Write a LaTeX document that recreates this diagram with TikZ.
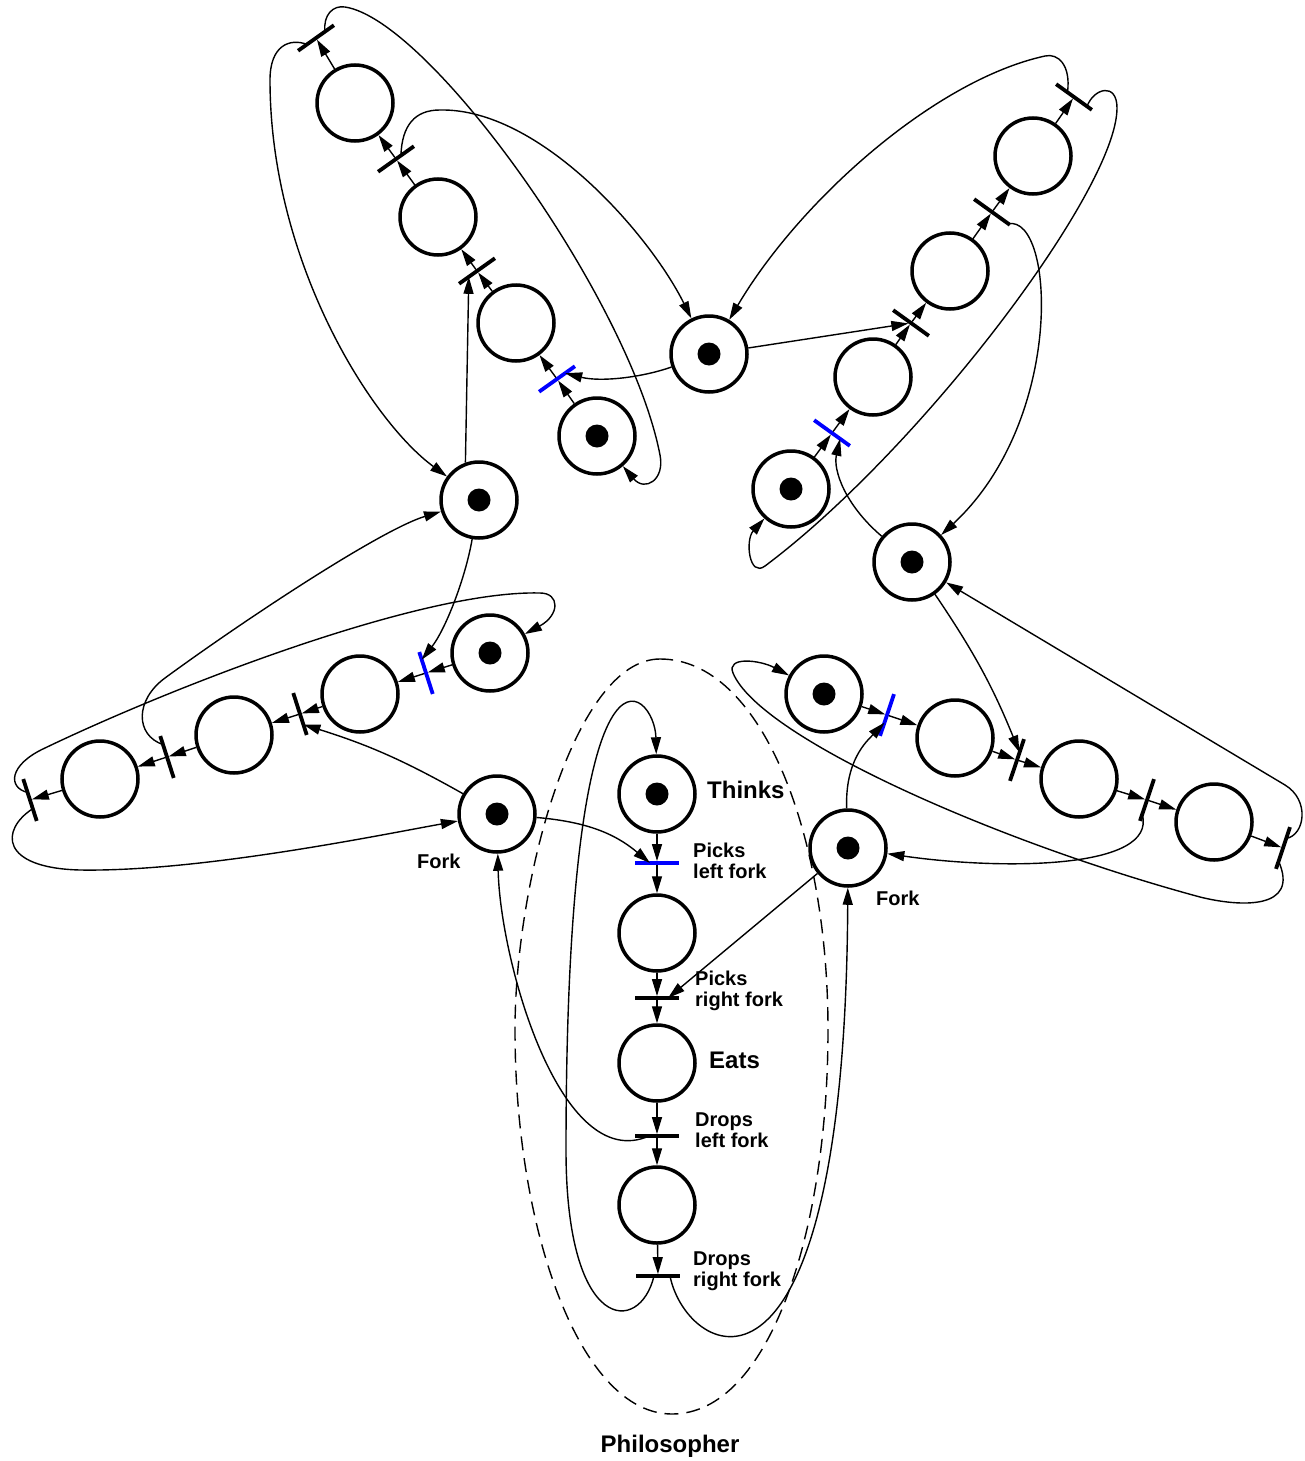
\documentclass[tikz,border=0pt]{standalone}
\usepackage{fontspec}
\setmainfont{Liberation Sans}
\usetikzlibrary{arrows.meta}

\begin{document}
\begin{tikzpicture}[
    x=1pt, y=1pt,
    >={Triangle[length=17pt,width=10pt]},
    place/.style={circle, draw, fill=white, line width=3.5pt, minimum size=76pt, inner sep=0pt},
    marked/.style={place, path picture={\fill[black] (path picture bounding box.center) circle (11.5pt);}},
    trans/.style={rectangle, fill=black, minimum width=3.8pt, minimum height=44pt, inner sep=0pt, outer sep=0pt},
    picks/.style={trans, fill=blue},
    flow/.style={->, line width=1.4pt},
    outline/.style={line width=1.4pt, dash pattern=on 14pt off 8pt},
    lbl/.style={font=\fontsize{20}{21}\selectfont\bfseries, align=left, inner sep=0pt},
    biglbl/.style={font=\fontsize{24}{28}\selectfont\bfseries, inner sep=0pt}
]
    \useasboundingbox (0,0) rectangle (1304,-1461);

    % --- Contour du philosophe ---
    \draw[outline] (660,-659) .. controls (575,-659) and (515,-880) .. (515,-1030)
        .. controls (515,-1230) and (580,-1414) .. (672,-1414)
        .. controls (770,-1414) and (828,-1230) .. (828,-1030)
        .. controls (828,-830) and (760,-659) .. (660,-659) -- cycle;

    % --- Fourchettes ---
    \node[marked] (forkA) at (497,-814) {};
    \node[marked] (forkB) at (848,-848) {};
    \node[marked] (forkC) at (912,-562) {};
    \node[marked] (forkD) at (709,-354) {};
    \node[marked] (forkE) at (479,-500) {};

    % --- Philosophe du bas ---
    \node[marked] (thinksA) at (657,-794) {};
    \node[picks, rotate=-90] (leftA) at (657,-863) {};
    \node[place] (holdsA) at (657,-933) {};
    \node[trans, rotate=-90] (rightA) at (657,-998) {};
    \node[place] (eatsA) at (657,-1063) {};
    \node[trans, rotate=-90] (dropLA) at (657,-1136) {};
    \node[place] (doneA) at (657,-1205) {};
    \node[trans, rotate=-90] (dropRA) at (658,-1276) {};

    % --- Philosophe de droite ---
    \node[marked] (thinksB) at (824,-694) {};
    \node[picks, rotate=-18.5] (leftB) at (887,-715) {};
    \node[place] (holdsB) at (955,-738) {};
    \node[trans, rotate=-18.5] (rightB) at (1017,-760) {};
    \node[place] (eatsB) at (1079,-779) {};
    \node[trans, rotate=-18.5] (dropLB) at (1147,-800) {};
    \node[place] (doneB) at (1214,-822) {};
    \node[trans, rotate=-18.5] (dropRB) at (1283,-848) {};

    % --- Philosophe en haut a droite ---
    \node[marked] (thinksC) at (791,-489) {};
    \node[picks, rotate=54.3] (leftC) at (832,-433) {};
    \node[place] (holdsC) at (873,-377) {};
    \node[trans, rotate=54.3] (rightC) at (911,-323) {};
    \node[place] (eatsC) at (950,-271) {};
    \node[trans, rotate=54.3] (dropLC) at (992,-212) {};
    \node[place] (doneC) at (1033,-156) {};
    \node[trans, rotate=54.3] (dropRC) at (1074,-97) {};

    % --- Philosophe en haut a gauche ---
    \node[marked] (thinksD) at (597,-436) {};
    \node[picks, rotate=-54.6] (leftD) at (557,-379) {};
    \node[place] (holdsD) at (516,-323) {};
    \node[trans, rotate=-54.6] (rightD) at (477,-271) {};
    \node[place] (eatsD) at (438,-217) {};
    \node[trans, rotate=-54.6] (dropLD) at (396,-159) {};
    \node[place] (doneD) at (355,-103) {};
    \node[trans, rotate=-54.6] (dropRD) at (316,-38) {};

    % --- Philosophe de gauche ---
    \node[marked] (thinksE) at (490,-653) {};
    \node[picks, rotate=17.8] (leftE) at (426,-673) {};
    \node[place] (holdsE) at (360,-694) {};
    \node[trans, rotate=17.8] (rightE) at (300,-714) {};
    \node[place] (eatsE) at (234,-735) {};
    \node[trans, rotate=17.8] (dropLE) at (167,-757) {};
    \node[place] (doneE) at (100,-779) {};
    \node[trans, rotate=17.8] (dropRE) at (30,-800) {};

    % --- Etiquettes ---
    \node[biglbl, anchor=base west] (thinksLbl) at (707,-798) {Thinks};
    \node[lbl, anchor=west] (picksLLbl) at (693,-861) {Picks\\left fork};
    \node[lbl, anchor=west] (picksRLbl) at (695,-991) {Picks\\right fork};
    \node[biglbl, anchor=base west] (eatsLbl) at (709,-1068) {Eats};
    \node[lbl, anchor=west] (dropsLLbl) at (695,-1130) {Drops\\left fork};
    \node[lbl, anchor=west] (dropsRLbl) at (693,-1271) {Drops\\right fork};
    \node[lbl, anchor=base west] (forkALbl) at (417,-868) {Fork};
    \node[lbl, anchor=base west] (forkBLbl) at (876,-905) {Fork};
    \node[biglbl, anchor=base] (philLbl) at (670,-1452) {Philosopher};

    % --- Arcs du philosophe du bas ---
    \draw[flow] (thinksA) -- (leftA);
    \draw[flow] (leftA) -- (holdsA);
    \draw[flow] (holdsA) -- (rightA);
    \draw[flow] (rightA) -- (eatsA);
    \draw[flow] (eatsA) -- (dropLA);
    \draw[flow] (dropLA) -- (doneA);
    \draw[flow] (doneA) -- (dropRA);
    \draw[flow] (forkA) to[out=-5,in=140] ([xshift=-7]leftA.center);
    \draw[flow] (forkB) -- ([xshift=11]rightA.center);
    \draw[flow] ([xshift=-8]dropLA.center) .. controls (560,-1175) and (500,-960) .. (forkA);
    \draw[flow] ([xshift=12]dropRA.center) .. controls (687,-1360) and (845,-1440) .. (forkB);
    \draw[flow] ([xshift=-4]dropRA.center) .. controls (640,-1335) and (566,-1335) .. (566,-1150)
        .. controls (566,-600) and (655,-690) .. (thinksA);

    % --- Arcs du philosophe de droite ---
    \draw[flow] (thinksB) -- (leftB);
    \draw[flow] (leftB) -- (holdsB);
    \draw[flow] (holdsB) -- (rightB);
    \draw[flow] (rightB) -- (eatsB);
    \draw[flow] (eatsB) -- (dropLB);
    \draw[flow] (dropLB) -- (doneB);
    \draw[flow] (doneB) -- (dropRB);
    \draw[flow] (forkB) .. controls (845,-760) and (867,-741) .. ([shift={(-2.5,-7.6)}]leftB.center);
    \draw[flow] (forkC) to[bend left=6] ([shift={(2.5,7.6)}]rightB.center);
    \draw[flow] ([shift={(-4.8,-14.2)}]dropLB.center) .. controls (1158,-870) and (1000,-870) .. (forkB);
    \draw[flow] ([shift={(3.2,9.5)}]dropRB.center) .. controls (1305,-835) and (1310,-800) .. (1285,-785) -- (forkC);
    \draw[flow] ([shift={(-4.4,-13.3)}]dropRB.center) .. controls (1300,-910) and (1240,-907) .. (1200,-897)
        .. controls (1000,-843) and (760,-738) .. (733,-673)
        .. controls (726,-656) and (760,-660) .. (thinksB);

    % --- Arcs du philosophe en haut a droite ---
    \draw[flow] (thinksC) -- (leftC);
    \draw[flow] (leftC) -- (holdsC);
    \draw[flow] (holdsC) -- (rightC);
    \draw[flow] (rightC) -- (eatsC);
    \draw[flow] (eatsC) -- (dropLC);
    \draw[flow] (dropLC) -- (doneC);
    \draw[flow] (doneC) -- (dropRC);
    \draw[flow] (forkC) .. controls (845,-505) and (833,-470) .. ([shift={(8.1,-5.8)}]leftC.center);
    \draw[flow] (forkD) -- (rightC);
    \draw[flow] ([shift={(16.2,-11.7)}]dropLC.center) .. controls (1055,-215) and (1065,-420) .. (forkC);
    \draw[flow] ([shift={(-6.5,4.7)}]dropRC.center) .. controls (1071,-65) and (1058,-53) .. (1045,-56)
        .. controls (935,-80) and (800,-200) .. (forkD);
    \draw[flow] ([shift={(13,-9.3)}]dropRC.center) .. controls (1094,-88) and (1117,-82) .. (1117,-108)
        .. controls (1117,-190) and (920,-450) .. (765,-566)
        .. controls (749,-578) and (745,-540) .. (thinksC);

    % --- Arcs du philosophe en haut a gauche ---
    \draw[flow] (thinksD) -- (leftD);
    \draw[flow] (leftD) -- (holdsD);
    \draw[flow] (holdsD) -- (rightD);
    \draw[flow] (rightD) -- (eatsD);
    \draw[flow] (eatsD) -- (dropLD);
    \draw[flow] (dropLD) -- (doneD);
    \draw[flow] (doneD) -- (dropRD);
    \draw[flow] (forkD) .. controls (640,-378) and (600,-382) .. ([shift={(8.2,5.8)}]leftD.center);
    \draw[flow] (forkE.110) -- ([shift={(-8.2,-5.8)}]rightD.center);
    \draw[flow] ([shift={(4.9,3.5)}]dropLD.center) .. controls (402,-125) and (415,-110) .. (440,-110)
        .. controls (540,-108) and (650,-235) .. (forkD);
    \draw[flow] ([shift={(-9,-6.4)}]dropRD.center) .. controls (290,-38) and (270,-45) .. (270,-80)
        .. controls (270,-260) and (370,-420) .. (forkE);
    \draw[flow] ([shift={(9,6.4)}]dropRD.center) .. controls (323,-15) and (333,-5) .. (345,-7)
        .. controls (430,-20) and (630,-300) .. (660,-455)
        .. controls (665,-480) and (645,-492) .. (thinksD);

    % --- Arcs du philosophe de gauche ---
    \draw[flow] (thinksE) -- (leftE);
    \draw[flow] (leftE) -- (holdsE);
    \draw[flow] (holdsE) -- (rightE);
    \draw[flow] (rightE) -- (eatsE);
    \draw[flow] (eatsE) -- (dropLE);
    \draw[flow] (dropLE) -- (doneE);
    \draw[flow] (doneE) -- (dropRE);
    \draw[flow] (forkE) .. controls (465,-580) and (445,-630) .. ([shift={(-4.3,13.3)}]leftE.center);
    \draw[flow] (forkA) to[bend right=6] ([shift={(3.4,-10.5)}]rightE.center);
    \draw[flow] ([shift={(-4,12.4)}]dropLE.center) .. controls (135,-735) and (135,-700) .. (165,-678)
        .. controls (240,-623) and (380,-530) .. (forkE);
    \draw[flow] ([shift={(2.8,-8.6)}]dropRE.center) .. controls (0,-830) and (0,-868) .. (80,-870)
        .. controls (200,-872) and (380,-835) .. (forkA);
    \draw[flow] ([shift={(-2.4,7.6)}]dropRE.center) .. controls (8,-788) and (8,-765) .. (45,-748)
        .. controls (170,-688) and (420,-590) .. (540,-593)
        .. controls (560,-593) and (560,-615) .. (thinksE);

\end{tikzpicture}
\end{document}
